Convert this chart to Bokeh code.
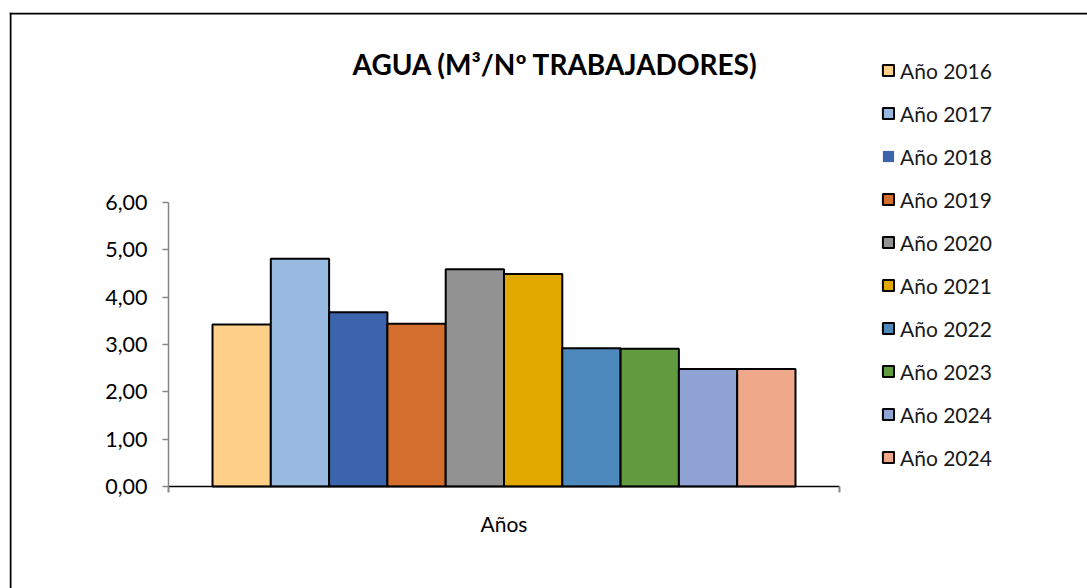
from bokeh.plotting import figure
from bokeh.models import (Range1d, FixedTicker, Legend, LegendItem, ColumnDataSource,
                          Span, Label)
from bokeh.embed import file_html
from bokeh.resources import INLINE

# ---- data ----
title_text = "AGUA (M³/Nº TRABAJADORES)"
x_label = "Años"
years = ["Año 2016", "Año 2017", "Año 2018", "Año 2019", "Año 2020",
         "Año 2021", "Año 2022", "Año 2023", "Año 2024", "Año 2024"]
values = [3.42, 4.81, 3.68, 3.44, 4.59, 4.49, 2.92, 2.91, 2.48, 2.48]
colors = ["#FED088", "#98B9E0", "#3C64AC", "#D36E2C", "#929292",
          "#E1A900", "#4E89BD", "#629A3F", "#8FA3D4", "#F0A88A"]
y_ticks = [0, 1, 2, 3, 4, 5, 6]

# ---- layout (canvas pixels) ----
FONT = "Lato"
W, H = 1087, 588
FL, FT = 9, 12            # chart-area border corner
AX_L, AX_R = 168, 839     # x axis extent
Y0, YTOP = 486, 202       # pixel of y=0 and y=max tick
pad = 0.755               # gap (in bar widths) between axis ends and bars

n = len(values)
idx = list(range(n))
x_lo, x_hi = -0.5 - pad, n - 0.5 + pad
ux = (AX_R - AX_L) / (x_hi - x_lo)
uy = (Y0 - YTOP) / (y_ticks[-1] - y_ticks[0])
x_start = x_lo - (AX_L - FL) / ux
x_end = x_hi + (W - AX_R) / ux
y_end = (Y0 - FT) / uy
y_start = -(H - Y0) / uy


def px_x(px):
    return x_start + (px - FL) / ux


def px_y(py):
    return (Y0 - py) / uy


p = figure(width=W, height=H, output_backend="svg", toolbar_location=None,
           title=None,
           x_range=Range1d(x_start, x_end), y_range=Range1d(y_start, y_end),
           min_border_left=FL, min_border_right=0,
           min_border_top=FT, min_border_bottom=0)
p.outline_line_color = None
p.xgrid.grid_line_color = None
p.ygrid.grid_line_color = None
p.background_fill_color = "white"
p.border_fill_color = "white"

src = ColumnDataSource(dict(x=idx, top=values, color=colors, label=years))
r_plain = p.vbar(x="x", top="top", width=1, bottom=0, source=src,
                 fill_color="color", line_color=None)
r_bar = p.vbar(x="x", top="top", width=1, bottom=0, source=src,
               fill_color="color", line_color="black", line_width=2)

# y axis
ya = p.yaxis[0]
ya.fixed_location = x_lo
ya.bounds = (y_ticks[0], y_ticks[-1])
ya.ticker = FixedTicker(ticks=y_ticks, minor_ticks=[])
ya.major_label_overrides = {t: f"{t:.2f}".replace(".", ",") for t in y_ticks}
ya.axis_line_color = "#868686"
ya.axis_line_width = 1.5
ya.major_tick_line_color = "#868686"
ya.major_tick_line_width = 1.5
ya.major_tick_out = 6
ya.major_tick_in = 0
ya.major_label_standoff = 15
ya.major_label_text_font = FONT
ya.major_label_text_font_size = "21.5px"
ya.major_label_text_color = "black"

# x axis
xa = p.xaxis[0]
xa.fixed_location = 0
xa.bounds = (x_lo, x_hi)
center = (idx[0] + idx[-1]) / 2
xa.ticker = FixedTicker(ticks=[center], minor_ticks=[x_lo, x_hi])
xa.major_label_overrides = {center: x_label}
xa.axis_line_color = "black"
xa.axis_line_width = 1.5
xa.major_tick_out = 0
xa.major_tick_in = 0
xa.minor_tick_out = 6
xa.minor_tick_in = 0
xa.minor_tick_line_color = "#868686"
xa.minor_tick_line_width = 2
xa.major_label_standoff = 18
xa.major_label_text_font = FONT
xa.major_label_text_font_size = "21px"
xa.major_label_text_color = "black"

# title
p.add_layout(Label(x=px_x(555), y=px_y(63), text=title_text,
                   text_font=FONT, text_font_style="bold",
                   text_font_size="28px", text_color="black",
                   text_align="center", text_baseline="alphabetic"))

# legend
items = [LegendItem(label=years[i], renderers=[r_plain if i == 2 else r_bar], index=i)
         for i in idx]
leg = Legend(items=items, location=(881 - FL, 118.5), orientation="vertical",
             glyph_width=14, glyph_height=14, label_height=25, spacing=18,
             label_standoff=5, padding=0, margin=0,
             border_line_color=None, background_fill_alpha=0,
             label_text_font=FONT, label_text_font_size="21px",
             label_text_color="#1a1a1a")
p.add_layout(leg, "center")

# chart-area border (top and left edges; right and bottom lie beyond the view)
p.add_layout(Span(location=px_x(FL + 1), dimension="height",
                  line_color="black", line_width=2))
p.add_layout(Span(location=px_y(FT + 1), dimension="width",
                  line_color="black", line_width=2))

open("out.html", "w").write(file_html(p, INLINE))
